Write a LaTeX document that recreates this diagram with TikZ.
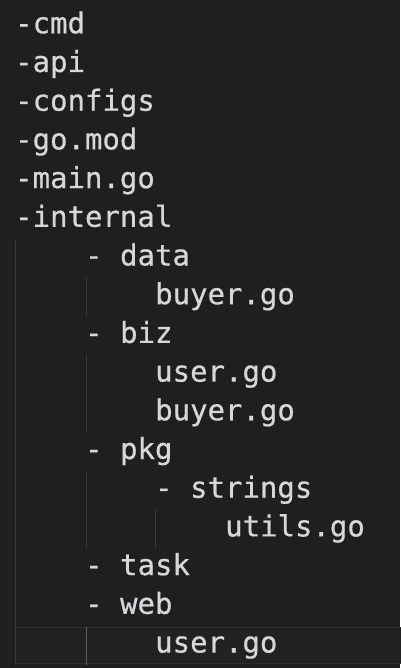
\documentclass[tikz,border=0pt]{standalone}
\usepackage{fontspec}
\setmonofont[FakeBold=0.6]{DejaVu Sans Mono}

\definecolor{editorbg}{HTML}{1F1F1F}
\definecolor{editorfg}{HTML}{D6D7DA}
\definecolor{guidegray}{HTML}{3A3A3C}
\definecolor{guidelit}{HTML}{5C5D60}
\definecolor{curlinebg}{HTML}{222222}
\definecolor{curlineedge}{HTML}{303032}

\tikzset{
  guide/.style={draw=guidegray, line width=1pt},
  guidecur/.style={draw=guidelit, line width=1.2pt},
}

\begin{document}
\begin{tikzpicture}[x=1pt,y=-1pt]

      \fill[editorbg] (0,0) rectangle (400,668);
      \useasboundingbox (0,0) rectangle (400,668);

      % caret line
      \filldraw[fill=curlinebg, draw=curlineedge, line width=1pt] (15.5,627) rectangle (401,663);

      \begin{scope}[every node/.style={anchor=base west, inner sep=0pt, text=editorfg,
          font=\ttfamily\fontsize{29}{29}\selectfont}]
        \node (cmd)      at (15,33.3)   {-cmd};
        \node (api)      at (15,72.0)   {-api};
        \node (configs)  at (15,110.7)  {-configs};
        \node (gomod)    at (15,149.4)  {-go.mod};
        \node (maingo)   at (15,188.1)  {-main.go};
        \node (internal) at (15,226.8)  {-internal};
        \node (data)     at (85,265.5)  {- data};
        \node (buyer1)   at (155,304.2) {buyer.go};
        \node (biz)      at (85,342.9)  {- biz};
        \node (user1)    at (155,381.6) {user.go};
        \node (buyer2)   at (155,420.3) {buyer.go};
        \node (pkg)      at (85,459.0)  {- pkg};
        \node (strings)  at (155,497.7) {- strings};
        \node (utils)    at (225,536.4) {utils.go};
        \node (task)     at (85,575.1)  {- task};
        \node (web)      at (85,613.8)  {- web};
        \node (user2)    at (155,652.5) {user.go};
      \end{scope}

      % indent guides
      \coordinate (g0a)  at (15.5,240);  \coordinate (g0b)  at (15.5,665);
      \coordinate (g4a)  at (86.5,278);  \coordinate (g4b)  at (86.5,316);
      \coordinate (g4c)  at (86.5,355);  \coordinate (g4d)  at (86.5,433);
      \coordinate (g4e)  at (86.5,472);  \coordinate (g4f)  at (86.5,548);
      \coordinate (g4g)  at (86.5,627);  \coordinate (g4h)  at (86.5,665);
      \coordinate (g8a)  at (155.5,510); \coordinate (g8b)  at (155.5,548);

      \path (g0a) edge[guide] (g0b);
      \path (g4a) edge[guide] (g4b);
      \path (g4c) edge[guide] (g4d);
      \path (g4e) edge[guide] (g4f);
      \path (g8a) edge[guide] (g8b);
      \path (g4g) edge[guidecur] (g4h);

    \end{tikzpicture}
\end{document}
